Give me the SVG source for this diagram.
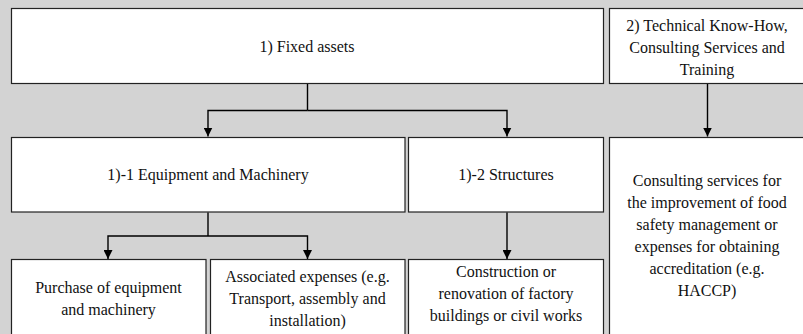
<svg xmlns="http://www.w3.org/2000/svg" width="803" height="334" viewBox="0 0 803 334">
  <style>
    .box { fill: #ffffff; stroke: #222222; stroke-width: 1.2; }
    .wire { fill: none; stroke: #000000; stroke-width: 1.4; }
  </style>
  <defs>
    <marker id="arrow" viewBox="0 0 10 10" refX="10" refY="5" markerWidth="9" markerHeight="9" markerUnits="userSpaceOnUse" orient="auto">
      <path d="M0,0 L10,5 L0,10 Z" fill="#000"/>
    </marker>
  </defs>

  <rect x="0" y="0" width="803" height="334" fill="#d3d3d3"/>

  <g font-family="Liberation Serif, Times New Roman, serif" font-size="16" fill="#111111" text-anchor="middle">
  <g id="fixed-assets">
    <rect class="box" x="11.5" y="8.5" width="592" height="75"/>
    <text x="307" y="52">1) Fixed assets</text>
  </g>

  <g id="technical-know-how">
    <rect class="box" x="609.5" y="8.5" width="200" height="75"/>
    <text x="707" y="31">2) Technical Know-How,</text>
    <text x="707" y="53">Consulting Services and</text>
    <text x="707" y="75">Training</text>
  </g>

  <g id="equipment-machinery">
    <rect class="box" x="11.5" y="137.5" width="393.5" height="74.5"/>
    <text x="208" y="180">1)-1 Equipment and Machinery</text>
  </g>

  <g id="structures">
    <rect class="box" x="408.5" y="137.5" width="195" height="74.5"/>
    <text x="506" y="180">1)-2 Structures</text>
  </g>

  <g id="consulting-services">
    <rect class="box" x="609.5" y="137.5" width="200" height="210"/>
    <text x="707" y="186">Consulting services for</text>
    <text x="707" y="208">the improvement of food</text>
    <text x="707" y="230">safety management or</text>
    <text x="707" y="252">expenses for obtaining</text>
    <text x="707" y="274">accreditation (e.g.</text>
    <text x="707" y="296">HACCP)</text>
  </g>

  <g id="purchase-equipment">
    <rect class="box" x="11.5" y="259.5" width="194.5" height="90"/>
    <text x="108.5" y="293">Purchase of equipment</text>
    <text x="108.5" y="315">and machinery</text>
  </g>

  <g id="associated-expenses">
    <rect class="box" x="210.5" y="259.5" width="194.5" height="90"/>
    <text x="307.5" y="282">Associated expenses (e.g.</text>
    <text x="307.5" y="304">Transport, assembly and</text>
    <text x="307.5" y="326">installation)</text>
  </g>

  <g id="construction">
    <rect class="box" x="408.5" y="259.5" width="195" height="90"/>
    <text x="506" y="277">Construction or</text>
    <text x="506" y="299">renovation of factory</text>
    <text x="506" y="321">buildings or civil works</text>
  </g>
  </g>

  <g id="connectors">
    <path class="wire" d="M307.5,84 V110.5"/>
    <path class="wire" d="M307.5,110.5 H208 V136.5" marker-end="url(#arrow)"/>
    <path class="wire" d="M307.5,110.5 H507 V136.5" marker-end="url(#arrow)"/>
    <path class="wire" d="M707.5,84 V136.5" marker-end="url(#arrow)"/>
    <path class="wire" d="M208,212.5 V236"/>
    <path class="wire" d="M208,236 H108 V259" marker-end="url(#arrow)"/>
    <path class="wire" d="M208,236 H307.5 V259" marker-end="url(#arrow)"/>
    <path class="wire" d="M507,212.5 V259" marker-end="url(#arrow)"/>
  </g>
</svg>
